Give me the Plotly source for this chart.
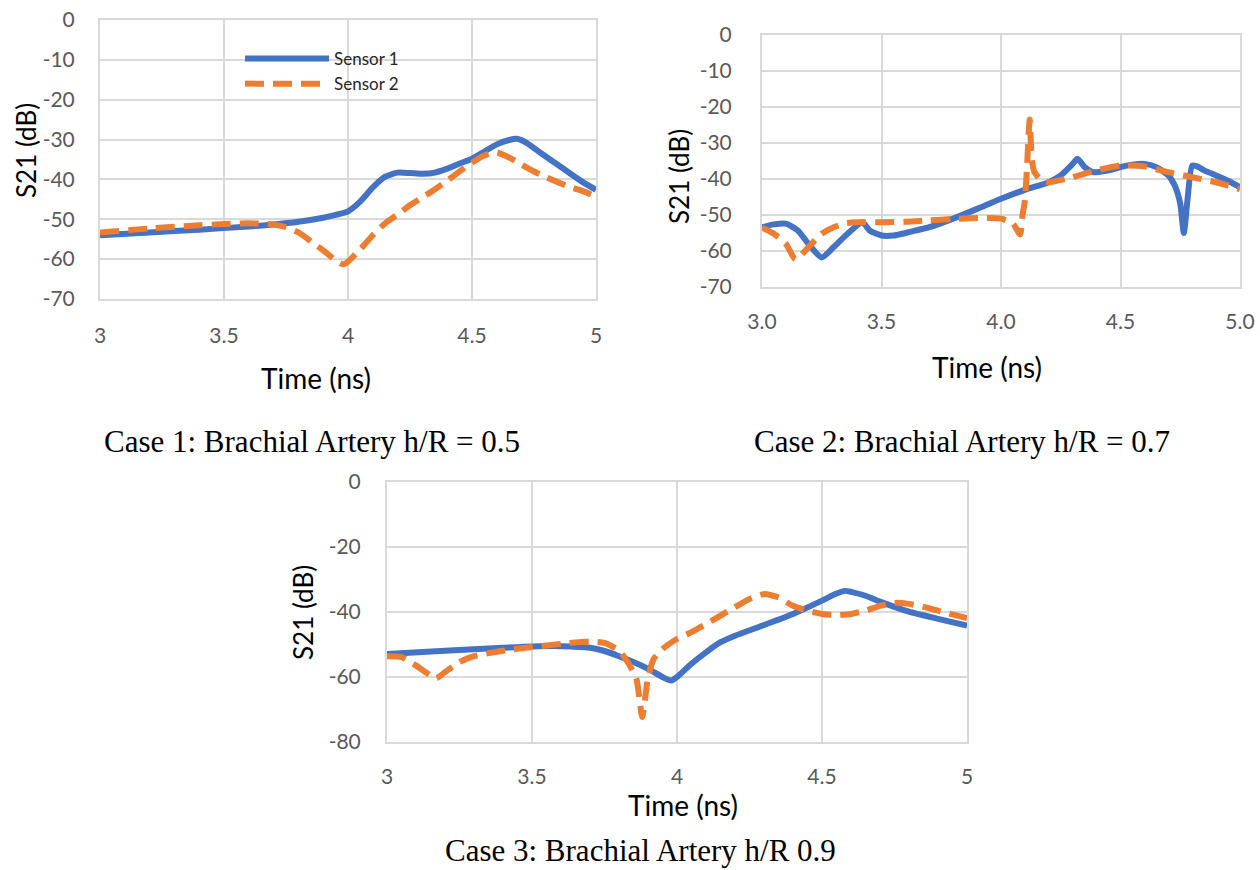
import plotly.graph_objects as go

# ---- Case 1: h/R = 0.5 ----
c1_s1_t = [3.0, 3.2, 3.4, 3.6, 3.7, 3.8, 3.9, 3.95, 4.0, 4.05, 4.1, 4.15, 4.2, 4.25, 4.3, 4.35,
           4.4, 4.45, 4.5, 4.55, 4.6, 4.65, 4.68, 4.72, 4.78, 4.85, 4.9, 4.95, 5.0]
c1_s1_db = [-54.0, -53.3, -52.6, -51.8, -51.3, -50.6, -49.6, -48.9, -48.0, -45.5, -42.0, -39.3, -38.3,
            -38.4, -38.6, -38.3, -37.3, -36.0, -34.8, -33.0, -31.2, -30.1, -29.8, -30.8, -33.5, -36.5,
            -38.7, -40.8, -42.6]
c1_s2_t = [3.0, 3.2, 3.4, 3.5, 3.6, 3.7, 3.75, 3.8, 3.85, 3.9, 3.95, 3.98, 4.0, 4.05, 4.1, 4.15, 4.2,
           4.25, 4.3, 4.35, 4.4, 4.45, 4.5, 4.55, 4.6, 4.65, 4.7, 4.75, 4.8, 4.85, 4.9, 4.95, 5.0]
c1_s2_db = [-53.3, -52.3, -51.5, -51.2, -51.0, -51.3, -52.0, -53.3, -55.5, -57.8, -60.3, -61.3, -60.6,
            -57.5, -54.0, -51.0, -48.8, -46.5, -44.5, -42.5, -40.3, -38.0, -35.8, -34.0, -33.3, -34.5,
            -36.3, -38.0, -39.5, -40.8, -42.0, -43.0, -44.3]

# ---- Case 2: h/R = 0.7 ----
c2_s1_t = [3.0, 3.05, 3.1, 3.15, 3.2, 3.25, 3.3, 3.35, 3.42, 3.45, 3.5, 3.55, 3.6, 3.7, 3.8, 3.9,
           4.0, 4.1, 4.2, 4.25, 4.3, 4.32, 4.35, 4.38, 4.4, 4.45, 4.5, 4.55, 4.6, 4.65, 4.7, 4.73,
           4.75, 4.765, 4.78, 4.8, 4.82, 4.85, 4.9, 4.95, 5.0]
c2_s1_db = [-53.4, -52.6, -52.4, -54.3, -58.5, -61.8, -58.9, -55.7, -52.0, -54.3, -55.7, -55.7, -55.0,
            -53.4, -51.0, -48.3, -45.5, -43.0, -40.9, -39.0, -35.8, -34.4, -36.7, -38.0, -38.1, -37.6,
            -36.7, -36.0, -35.8, -36.7, -39.0, -42.3, -46.9, -55.0, -46.0, -36.3, -36.5, -37.6, -39.0,
            -40.5, -42.3]
c2_s2_t = [3.0, 3.05, 3.1, 3.14, 3.2, 3.25, 3.3, 3.35, 3.4, 3.5, 3.6, 3.7, 3.8, 3.9, 4.0, 4.05, 4.08,
           4.09, 4.1, 4.11, 4.12, 4.125, 4.13, 4.14, 4.17, 4.2, 4.25, 4.3, 4.4, 4.5, 4.6, 4.65, 4.7,
           4.8, 4.9, 5.0]
c2_s2_db = [-53.5, -55.2, -58.0, -62.3, -58.5, -55.2, -53.4, -52.3, -52.0, -52.0, -51.9, -51.5, -51.1,
            -50.8, -51.0, -52.4, -55.4, -50.0, -46.0, -35.0, -23.5, -30.0, -35.0, -38.1, -40.4, -40.9,
            -40.3, -39.5, -37.6, -36.3, -36.5, -37.3, -38.1, -39.5, -40.9, -42.8]

# ---- Case 3: h/R 0.9 ----
c3_s1_t = [3.0, 3.2, 3.4, 3.5, 3.6, 3.7, 3.75, 3.8, 3.85, 3.9, 3.95, 3.98, 4.0, 4.05, 4.1, 4.15, 4.2,
           4.3, 4.4, 4.5, 4.55, 4.58, 4.6, 4.65, 4.7, 4.8, 4.9, 5.0]
c3_s1_db = [-52.9, -51.9, -51.0, -50.6, -50.5, -51.0, -52.0, -53.6, -55.4, -57.5, -60.0, -61.1, -60.0,
            -55.9, -52.4, -49.3, -47.3, -44.0, -40.6, -36.5, -34.3, -33.5, -33.8, -35.0, -36.8, -39.9,
            -42.1, -44.2]
c3_s2_t = [3.0, 3.05, 3.1, 3.15, 3.17, 3.2, 3.25, 3.3, 3.4, 3.5, 3.6, 3.7, 3.75, 3.8, 3.83, 3.86, 3.88,
           3.89, 3.9, 3.92, 3.95, 4.0, 4.05, 4.1, 4.15, 4.2, 4.25, 4.3, 4.35, 4.4, 4.45, 4.5, 4.55,
           4.6, 4.65, 4.7, 4.75, 4.8, 4.85, 4.9, 5.0]
c3_s2_db = [-53.6, -53.9, -56.5, -59.5, -60.4, -58.5, -55.4, -53.6, -51.9, -50.8, -49.8, -49.1, -49.5,
            -51.9, -55.4, -60.6, -72.3, -66.7, -60.0, -54.4, -51.4, -48.3, -46.2, -43.7, -41.1, -38.5,
            -36.0, -34.5, -35.5, -38.1, -39.6, -40.6, -40.9, -40.6, -39.6, -38.1, -37.2, -37.5, -38.4,
            -39.6, -41.9]

series_names = ["Sensor 1", "Sensor 2"]
captions = ["Case 1: Brachial Artery h/R = 0.5",
            "Case 2: Brachial Artery h/R = 0.7",
            "Case 3: Brachial Artery h/R 0.9"]
x_title = "Time (ns)"
y_title = "S21 (dB)"

# tick values and labels (plain hyphen for negatives)
time_ticks = [3.0, 3.5, 4.0, 4.5, 5.0]
time_labels = ["3", "3.5", "4", "4.5", "5"]
time_labels_1dp = ["3.0", "3.5", "4.0", "4.5", "5.0"]
db_ticks_10 = [0, -10, -20, -30, -40, -50, -60, -70]
db_labels_10 = ["0", "-10", "-20", "-30", "-40", "-50", "-60", "-70"]
db_ticks_20 = [0, -20, -40, -60, -80]
db_labels_20 = ["0", "-20", "-40", "-60", "-80"]

BLUE = "#4472C4"
ORANGE = "#ED7D31"
GRID = "#D9D9D9"
TICK = "#595959"
SANS = "Lato, Carlito, 'Open Sans', sans-serif"
SERIF = "'Liberation Serif', 'DejaVu Serif', serif"

W, H = 1260, 870


def px_x(p):
    return p / W


def px_y(p):
    return 1 - p / H


fig = go.Figure()

panels = [
    (c1_s1_t, c1_s1_db, c1_s2_t, c1_s2_db, "x", "y", True),
    (c2_s1_t, c2_s1_db, c2_s2_t, c2_s2_db, "x2", "y2", False),
    (c3_s1_t, c3_s1_db, c3_s2_t, c3_s2_db, "x3", "y3", False),
]
for t1, d1, t2, d2, xa, ya, show in panels:
    fig.add_trace(go.Scatter(x=t1, y=d1, mode="lines", name=series_names[0], xaxis=xa, yaxis=ya,
                             showlegend=show, legendgroup="s1",
                             line=dict(color=BLUE, width=6, shape="spline", smoothing=0.6)))
    fig.add_trace(go.Scatter(x=t2, y=d2, mode="lines", name=series_names[1], xaxis=xa, yaxis=ya,
                             showlegend=show, legendgroup="s2",
                             line=dict(color=ORANGE, width=6, dash="19px,9px",
                                       shape="spline", smoothing=0.6)))


def xaxis(dom, anchor, labels, label_gap):
    return dict(domain=dom, anchor=anchor, range=[3, 5], automargin=False,
                tickmode="array", tickvals=time_ticks, ticktext=labels,
                showgrid=True, gridcolor=GRID, gridwidth=2, zeroline=False,
                showline=True, linecolor=GRID, linewidth=2, mirror=True, ticks="",
                ticklabelstandoff=label_gap,
                tickfont=dict(family=SANS, size=21, color=TICK))


def yaxis(dom, anchor, lo, ticks, labels, label_gap):
    return dict(domain=dom, anchor=anchor, range=[lo, 0], automargin=False,
                tickmode="array", tickvals=ticks, ticktext=labels,
                showgrid=True, gridcolor=GRID, gridwidth=2, zeroline=False,
                showline=True, linecolor=GRID, linewidth=2, mirror=True, ticks="",
                ticklabelstandoff=label_gap,
                tickfont=dict(family=SANS, size=21, color=TICK))


fig.update_layout(
    width=W, height=H,
    margin=dict(l=0, r=0, t=0, b=0, autoexpand=False),
    paper_bgcolor="white", plot_bgcolor="white",
    xaxis=xaxis([px_x(100), px_x(596)], "y", time_labels, 17),
    yaxis=yaxis([px_y(299), px_y(20)], "x", -70, db_ticks_10, db_labels_10, 19),
    xaxis2=xaxis([px_x(762), px_x(1240)], "y2", time_labels_1dp, 15),
    yaxis2=yaxis([px_y(287), px_y(35)], "x2", -70, db_ticks_10, db_labels_10, 24),
    xaxis3=xaxis([px_x(387), px_x(967)], "y3", time_labels, 15),
    yaxis3=yaxis([px_y(742), px_y(482)], "x3", -80, db_ticks_20, db_labels_20, 20),
    legend=dict(x=px_x(240), y=px_y(41), xanchor="left", yanchor="top",
                bgcolor="rgba(0,0,0,0)", itemwidth=84, tracegroupgap=0,
                font=dict(family=SANS, size=17, color="#262626")),
)

# axis titles, centred on each chart area
x_title_pos = [(316, 378), (987, 367), (683, 805)]
y_title_pos = [(26, 151), (679, 177), (303, 613)]
for (cx, cy) in x_title_pos:
    fig.add_annotation(text=x_title, x=px_x(cx), y=px_y(cy), xref="paper", yref="paper",
                       xanchor="center", yanchor="middle", showarrow=False,
                       font=dict(family=SANS, size=28, color="#000000"))
for (cx, cy) in y_title_pos:
    fig.add_annotation(text=y_title, x=px_x(cx), y=px_y(cy), xref="paper", yref="paper",
                       xanchor="center", yanchor="middle", showarrow=False, textangle=-90,
                       font=dict(family=SANS, size=26, color="#000000"))

caption_pos = [(312, 441), (962, 441), (640, 850)]
for text, (cx, cy) in zip(captions, caption_pos):
    fig.add_annotation(text=text, x=px_x(cx), y=px_y(cy), xref="paper", yref="paper",
                       xanchor="center", yanchor="middle", showarrow=False,
                       font=dict(family=SERIF, size=31, color="#000000"))

fig.write_html("out.html")
